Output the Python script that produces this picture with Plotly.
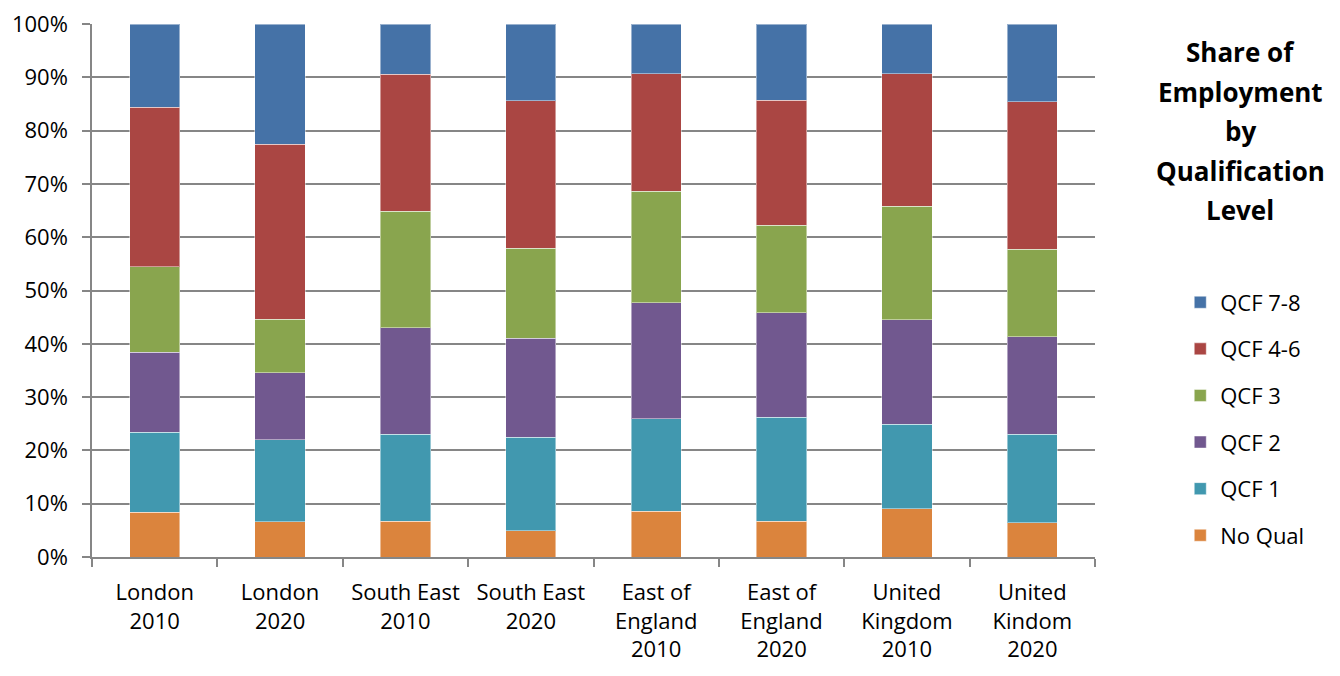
import plotly.graph_objects as go

categories = ["London<br>2010", "London<br>2020", "South East<br>2010", "South East<br>2020",
              "East of<br>England<br>2010", "East of<br>England<br>2020",
              "United<br>Kingdom<br>2010", "United<br>Kindom<br>2020"]

no_qual = [8.4, 6.6, 6.75, 4.9, 8.6, 6.75, 9.1, 6.4]
qcf_1 = [15.05, 15.4, 16.25, 17.6, 17.3, 19.45, 15.8, 16.6]
qcf_2 = [14.95, 12.6, 20.0, 18.5, 21.8, 19.6, 19.6, 18.3]
qcf_3 = [16.1, 10.0, 21.9, 16.9, 20.9, 16.4, 21.35, 16.4]
qcf_4_6 = [29.9, 32.8, 25.7, 27.7, 22.1, 23.5, 24.85, 27.7]
qcf_7_8 = [15.6, 22.6, 9.4, 14.4, 9.3, 14.3, 9.3, 14.6]

series_names = ["No Qual", "QCF 1", "QCF 2", "QCF 3", "QCF 4-6", "QCF 7-8"]
series_values = [no_qual, qcf_1, qcf_2, qcf_3, qcf_4_6, qcf_7_8]
colors = ["#DB843D", "#4198AF", "#71588F", "#89A54E", "#AA4643", "#4572A7"]

title_lines = ["Share of", "Employment", "by", "Qualification", "Level"]

FONT = "Open Sans"

fig = go.Figure()
n = len(series_names)
for i, (name, vals, col) in enumerate(zip(series_names, series_values, colors)):
    fig.add_trace(go.Bar(
        x=categories, y=vals, name=name, legendgroup=name, legendrank=n - i,
        marker=dict(color=col, line=dict(color="rgba(255,255,255,0.45)", width=1)),
    ))

annotations = []
for k, line in enumerate(title_lines):
    annotations.append(dict(
        text="<b>" + line + "</b>",
        xref="paper", yref="paper", x=1.145, y=(557 - (52 + 39.5 * k)) / 533.0,
        xanchor="center", yanchor="middle", showarrow=False,
        font=dict(family=FONT, size=26, color="black"),
    ))

fig.update_layout(
    barmode="stack",
    bargap=0.6,
    width=1340, height=676,
    margin=dict(l=92, r=245, t=24, b=119),
    paper_bgcolor="white", plot_bgcolor="white",
    font=dict(family=FONT, size=22, color="black"),
    legend=dict(
        x=1.085, xanchor="left", y=0.517, yanchor="top",
        traceorder="grouped", tracegroupgap=15,
        font=dict(family=FONT, size=22, color="black"),
        itemclick=False,
    ),
    annotations=annotations,
)

fig.update_xaxes(
    type="category", tickson="boundaries", ticks="outside", ticklen=8, tickcolor="#868686",
    tickwidth=1.5, showline=True, linecolor="#868686", linewidth=1.5,
    showgrid=False, tickfont=dict(family=FONT, size=22, color="black"),
    ticklabelstandoff=15, automargin=False,
)
fig.update_yaxes(
    range=[0, 100], dtick=10, ticksuffix="%", ticks="outside", ticklen=8, tickcolor="#868686",
    tickwidth=1.5, showline=True, linecolor="#868686", linewidth=1.5,
    showgrid=True, gridcolor="#868686", gridwidth=1.5,
    tickfont=dict(family=FONT, size=22, color="black"),
    ticklabelstandoff=10, zeroline=False, automargin=False,
)

fig.write_html("out.html")
